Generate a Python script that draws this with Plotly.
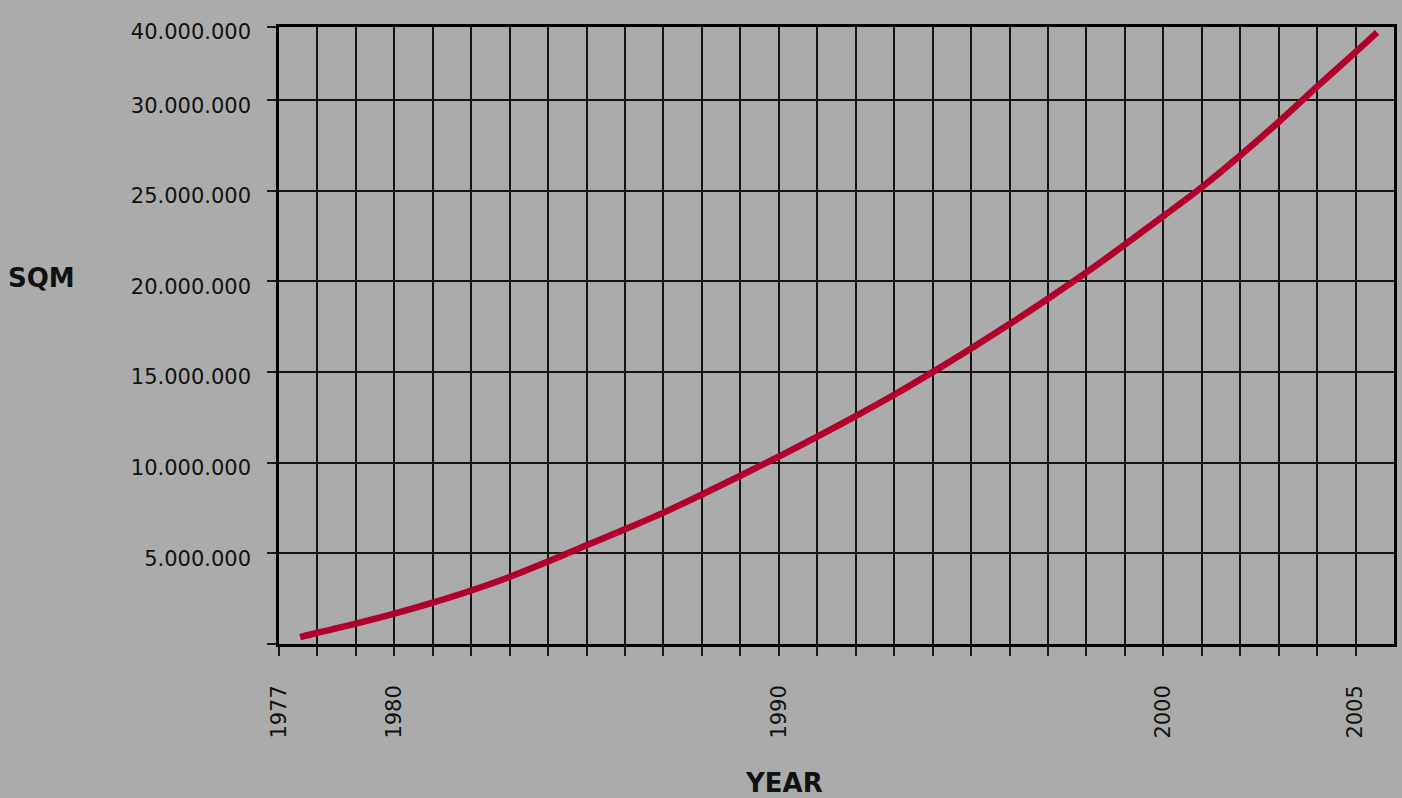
import plotly.graph_objects as go

# ---- data ----
years = [1977.55, 1978, 1979, 1980, 1981, 1982, 1983, 1984, 1985, 1986, 1987,
         1988, 1989, 1990, 1991, 1992, 1993, 1994, 1995, 1996, 1997, 1998,
         1999, 2000, 2001, 2002, 2003, 2004, 2005, 2005.56]
sqm_millions = [0.38, 0.62, 1.12, 1.67, 2.28, 2.95, 3.70, 4.55, 5.45, 6.33, 7.25,
                8.25, 9.28, 10.34, 11.44, 12.57, 13.75, 15.00, 16.30, 17.65, 19.05,
                20.50, 22.03, 23.60, 25.20, 26.95, 28.80, 30.75, 32.65, 33.74]
sqm = [v * 1_000_000 for v in sqm_millions]

y_tick_values = [0, 5e6, 10e6, 15e6, 20e6, 25e6, 30e6, 34.04e6]
y_tick_labels = ["", "5.000.000", "10.000.000", "15.000.000", "20.000.000",
                 "25.000.000", "30.000.000", "40.000.000"]
x_tick_values = list(range(1977, 2006))
x_labeled = {1977: "1977", 1980: "1980", 1990: "1990", 2000: "2000", 2005: "2005"}
x_tick_labels = [x_labeled.get(y, "") for y in x_tick_values]

BG = "#ababab"
FONT = "DejaVu Sans"

fig = go.Figure()
fig.add_trace(go.Scatter(
    x=years, y=sqm, mode="lines",
    line=dict(color="#b1002b", width=6.5, shape="spline"),
    showlegend=False, hoverinfo="skip",
))

fig.update_layout(
    width=1402, height=798,
    margin=dict(l=279, r=5, t=27, b=154),
    paper_bgcolor=BG, plot_bgcolor=BG,
    font=dict(family=FONT, color="#111111", size=21),
    xaxis=dict(
        range=[1977, 2006],
        tickmode="array", tickvals=x_tick_values, ticktext=x_tick_labels,
        tickangle=-90, ticks="outside", ticklen=9, tickwidth=1.5, tickcolor="#1a1a1a",
        ticklabelstandoff=21,
        showgrid=True, gridcolor="#151515", gridwidth=1.5,
        showline=True, linecolor="#000", linewidth=2.5, mirror=True,
        zeroline=False, tickfont=dict(size=21, family=FONT),
    ),
    yaxis=dict(
        range=[0, 34.04e6],
        tickmode="array", tickvals=y_tick_values, ticktext=y_tick_labels,
        ticks="outside", ticklen=9, tickwidth=1.5, tickcolor="#1a1a1a",
        ticklabelstandoff=12, ticklabelshift=5,
        showgrid=True, gridcolor="#151515", gridwidth=1.5,
        showline=True, linecolor="#000", linewidth=2.5, mirror=True,
        zeroline=False, tickfont=dict(size=21, family=FONT),
    ),
    annotations=[
        dict(text="<b>SQM</b>", xref="paper", yref="paper", x=-0.2126, y=0.5924,
             xanchor="center", yanchor="middle", showarrow=False,
             font=dict(family=FONT, size=26, color="#111111")),
        dict(text="<b>YEAR</b>", xref="paper", yref="paper", x=0.453, y=-0.226,
             xanchor="center", yanchor="middle", showarrow=False,
             font=dict(family=FONT, size=26, color="#111111")),
    ],
)

fig.write_html(
    "out.html",
    config={"displayModeBar": False},
    post_script="document.body.style.margin='0';document.body.style.overflow='hidden';"
                "document.body.style.background='#ababab';",
)
